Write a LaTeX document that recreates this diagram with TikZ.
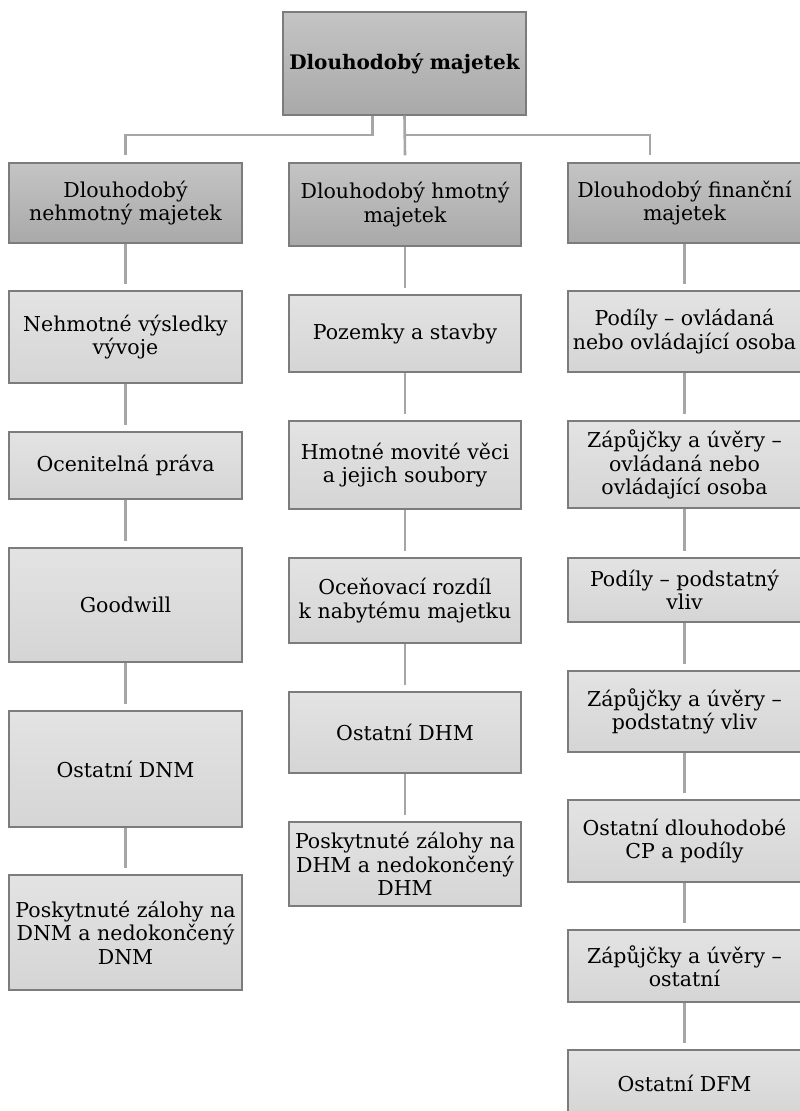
\documentclass[tikz,border=0pt]{standalone}
\usepackage{fontspec}
\setmainfont{DejaVu Serif}
\definecolor{linegray}{HTML}{A6A6A6}
\definecolor{edgegray}{HTML}{7C7C7C}
\definecolor{headtop}{HTML}{C4C4C4}
\definecolor{headbot}{HTML}{A9A9A9}
\definecolor{itemtop}{HTML}{E3E3E3}
\definecolor{itembot}{HTML}{D5D5D5}

\begin{document}
\begin{tikzpicture}[x=1pt,y=-1pt,
    box/.style={draw=edgegray,line width=1.3pt,minimum width=233pt,align=center,
      inner sep=0pt,font=\fontsize{20.5}{23.5}\selectfont},
    head/.style={box,top color=headtop,bottom color=headbot},
    item/.style={box,top color=itemtop,bottom color=itembot},
    conn/.style={linegray,line width=2.6pt},
    gap/.style={conn,shorten >=6pt}]
  \useasboundingbox (0,0) rectangle (800,1111);
  \clip (0,0) rectangle (800,1111);
  % top
  \node[head,minimum width=243pt,minimum height=103pt,font=\fontsize{20}{24}\selectfont\bfseries]
    (dm) at (404.5,63.5) {Dlouhodobý majetek};
  % nehmotny
  \node[head,minimum height=80pt] (dnm) at (125.5,203) {Dlouhodobý\\nehmotný majetek};
  \node[item,minimum height=92pt] (nvv) at (125.5,337) {Nehmotné výsledky\\vývoje};
  \node[item,minimum height=67pt] (op) at (125.5,465.5) {Ocenitelná práva};
  \node[item,minimum height=114pt] (gw) at (125.5,605) {Goodwill};
  \node[item,minimum height=116pt] (odnm) at (125.5,769) {Ostatní DNM};
  \node[item,minimum height=115pt] (pzdnm) at (125.5,932.5) {Poskytnuté zálohy na\\DNM a nedokončený\\DNM};
  % hmotny
  \node[head,minimum width=232pt,minimum height=83pt] (dhm) at (405,204.5) {Dlouhodobý hmotný\\majetek};
  \node[item,minimum width=232pt,minimum height=77pt] (ps) at (405,333.5) {Pozemky a stavby};
  \node[item,minimum width=232pt,minimum height=88pt] (hmv) at (405,465) {Hmotné movité věci\\a jejich soubory};
  \node[item,minimum width=232pt,minimum height=85pt] (ocr) at (405,600.5) {Oceňovací rozdíl\\k nabytému majetku};
  \node[item,minimum width=232pt,minimum height=81pt] (odhm) at (405,732.5) {Ostatní DHM};
  \node[item,minimum width=232pt,minimum height=84pt] (pzdhm) at (405,864) {Poskytnuté zálohy na\\DHM a nedokončený\\DHM};
  % financni
  \node[head,minimum height=80pt] (dfm) at (684.5,203) {Dlouhodobý finanční\\majetek};
  \node[item,minimum height=81pt] (pov) at (684.5,331.5) {Podíly – ovládaná\\nebo ovládající osoba};
  \node[item,minimum height=87pt] (zov) at (684.5,464.5) {Zápůjčky a úvěry –\\ovládaná nebo\\ovládající osoba};
  \node[item,minimum height=64pt] (ppv) at (684.5,590) {Podíly – podstatný\\vliv};
  \node[item,minimum height=81pt] (zpv) at (684.5,711.5) {Zápůjčky a úvěry –\\podstatný vliv};
  \node[item,minimum height=82pt] (ocp) at (684.5,841) {Ostatní dlouhodobé\\CP a podíly};
  \node[item,minimum height=72pt] (zos) at (684.5,966) {Zápůjčky a úvěry –\\ostatní};
  \node[item,minimum height=66pt] (odfm) at (684.5,1083) {Ostatní DFM};
  % connectors
  \coordinate (bus) at (0,135);
  \draw[conn] ([xshift=-32pt]dm.south) |- (bus -| dnm) -- ([yshift=7pt]dnm.north);
  \draw[conn] (dm.south) -- ([yshift=7pt]dhm.north);
  \draw[conn] (dm.south |- bus) -| ([xshift=-34.5pt,yshift=7pt]dfm.north);
  \draw[gap] (dnm) -- (nvv); \draw[gap] (nvv) -- (op); \draw[gap] (op) -- (gw);
  \draw[gap] (gw) -- (odnm); \draw[gap] (odnm) -- (pzdnm);
  \draw[gap] (dhm) -- (ps); \draw[gap] (ps) -- (hmv); \draw[gap] (hmv) -- (ocr);
  \draw[gap] (ocr) -- (odhm); \draw[gap] (odhm) -- (pzdhm);
  \draw[gap] (dfm) -- (pov); \draw[gap] (pov) -- (zov); \draw[gap] (zov) -- (ppv);
  \draw[gap] (ppv) -- (zpv); \draw[gap] (zpv) -- (ocp); \draw[gap] (ocp) -- (zos);
  \draw[gap] (zos) -- (odfm);
\end{tikzpicture}
\end{document}
